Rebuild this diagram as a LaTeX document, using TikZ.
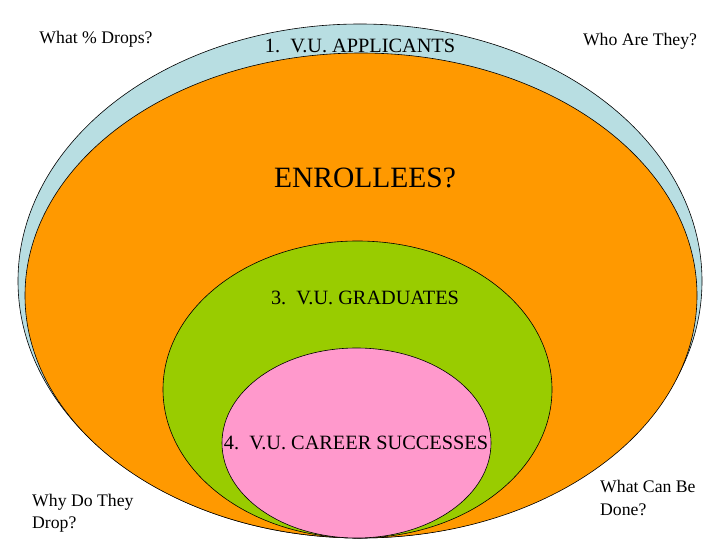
\documentclass[tikz,border=0pt]{standalone}
\usepackage{fontspec}
\setmainfont{Liberation Serif}
\usetikzlibrary{shapes.geometric}
\definecolor{applblue}{RGB}{184,222,226}
\definecolor{enrorange}{RGB}{255,153,0}
\definecolor{gradgreen}{RGB}{153,204,0}
\definecolor{succpink}{RGB}{255,153,204}
\tikzset{
  ring/.style={ellipse, draw=black, line width=0.6pt, inner sep=0pt},
  lbl/.style={font=\fontsize{20.3}{24}\selectfont, inner sep=0pt},
  side/.style={font=\fontsize{17.7}{22.5}\selectfont, inner sep=0pt, align=left}
}
\begin{document}
\begin{tikzpicture}[x=1pt,y=-1pt]
\useasboundingbox (0,0) rectangle (720,540);
\node[ring, fill=applblue, minimum width=684, minimum height=514] (appl) at (360,281) {};
\node[ring, fill=enrorange, minimum width=672, minimum height=485] (enr) at (361,295.5) {};
\node[ring, fill=gradgreen, minimum width=389, minimum height=297] (grad) at (357.5,389.5) {};
\node[ring, fill=succpink, minimum width=269, minimum height=190] (succ) at (356.5,443) {};
\node[lbl] (t1) at (360,46) {1.\ \ V.U. APPLICANTS};
\node[lbl, font=\fontsize{29.5}{34}\selectfont] (t2) at (365,178) {ENROLLEES?};
\node[lbl] (t3) at (365,298) {3.\ \ V.U. GRADUATES};
\node[lbl] (t4) at (356,443) {4.\ \ V.U. CAREER SUCCESSES};
\node[side] (q1) at (96,39) {What \% Drops?};
\node[side] (q2) at (640,41) {Who Are They?};
\node[side, anchor=west] (q3) at (32,513) {Why Do They\\Drop?};
\node[side, anchor=west] (q4) at (600,498) {What Can Be\\Done?};
\end{tikzpicture}
\end{document}
